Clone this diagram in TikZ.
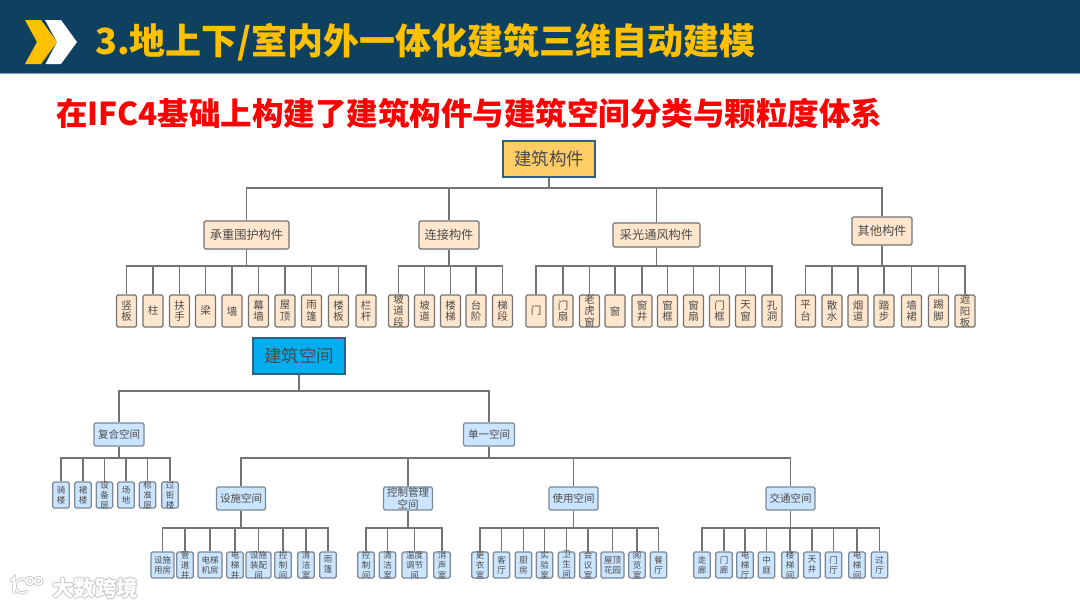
\documentclass[tikz,border=0pt]{standalone}
\usepackage{fontspec}
\usepackage{tikz}
\usepackage{xcolor}
\newfontfamily\cjk{Noto Sans CJK SC}
\definecolor{bandblue}{HTML}{0E4060}
\definecolor{bandedge}{HTML}{7F9FB5}
\definecolor{titleyellow}{HTML}{FFC000}
\definecolor{peach}{HTML}{FFE6CC}
\definecolor{paleblue}{HTML}{CCE5FF}
\definecolor{rootgold}{HTML}{FFCC66}
\definecolor{rootblue}{HTML}{00AEEF}
\definecolor{rootedge}{HTML}{2F6085}
\definecolor{linkgrey}{HTML}{737373}
\definecolor{edgeblue}{HTML}{7C8894}
\definecolor{inkgrey}{HTML}{4A4A4A}
\definecolor{markgrey}{HTML}{C4C4C4}

\begin{document}
\begin{tikzpicture}[x=1pt,y=-1pt,
    link/.style={draw=linkgrey,line width=1.1pt},
    box/.style={draw=linkgrey,line width=1.1pt,rounded corners=1.5pt,inner sep=0pt,align=center,text=inkgrey},
    rootbox/.style={box,draw=rootedge,line width=1.4pt,rounded corners=0pt,minimum width=92pt,minimum height=36pt,font=\cjk\fontsize{17.5}{20}\selectfont},
    partgroup/.style={box,fill=peach,font=\cjk\fontsize{12.2}{14}\selectfont},
    partleaf/.style={box,fill=peach,minimum width=20pt,minimum height=32pt},
    parttext/.style={inner sep=0pt,align=center,text=inkgrey,font=\cjk\fontsize{10.5}{11.7}\selectfont},
    spacegroup/.style={box,draw=edgeblue,fill=paleblue,minimum height=23pt},
    grouptext/.style={inner sep=0pt,align=center,text=inkgrey,font=\cjk\fontsize{10.5}{12.3}\selectfont},
    spaceleaf/.style={box,draw=edgeblue,fill=paleblue,minimum height=26pt},
    spacetext/.style={inner sep=0pt,align=center,text=inkgrey,font=\cjk\fontsize{8.5}{10}\selectfont},
    marktext/.style={anchor=west,inner sep=0pt,font=\cjk\bfseries\fontsize{21.5}{24}\selectfont}]
    \useasboundingbox (0,0) rectangle (1080,608);
    \fill[white] (0,0) rectangle (1080,608);
    % header band
    \fill[bandblue] (0,0) rectangle (1080,73);
    \draw[bandedge,line width=0.6pt] (0,73) -- (1080,73);
    \fill[titleyellow] (25,20)--(41,20)--(57,42)--(41,64)--(25,64)--(37,42)--cycle;
    \fill[white] (45,20)--(61,20)--(77,42)--(61,64)--(45.5,64)--(57,42)--cycle;
    \node[anchor=west,inner sep=0pt,text=titleyellow,font=\cjk\bfseries\fontsize{36}{40}\selectfont] (title) at (95,42) {3.地上下/室内外一体化建筑三维自动建模};
    \node[anchor=west,inner sep=0pt,text=red,font=\cjk\bfseries\fontsize{31.5}{34}\selectfont] (subtitle) at (56,113) {在IFC4基础上构建了建筑构件与建筑空间分类与颗粒度体系};
    % building parts
    \node[rootbox,fill=rootgold] (parts) at (549,159) {建筑构件};
    \coordinate (partsbar) at (parts.south |- 0,188);
    \foreach \name/\x/\y/\w/\h/\lab in {gA/246.5/235/85/28/承重围护构件,gB/449/235/60/28/连接构件,gC/656.5/235/87/24/采光通风构件,gD/882/231/60/28/其他构件}{
        \node[partgroup,minimum width=\w pt,minimum height=\h pt] (\name) at (\x,\y) {\lab};
        \coordinate (\name bar) at (\name.south |- 0,266);
        \draw[link] (parts.south) -- (partsbar) -| (\name.north);
        \draw[link] (\name.south) -- (\name bar);
    }
    \foreach \x/\lab in {126.5/竖\\板,153/柱,179.5/扶\\手,205.5/梁,232/墙,258.5/幕\\墙,285/屋\\顶,311.5/雨\\篷,338.5/楼\\板,366/栏\\杆}{
        \node[partleaf,label={[parttext]center:\lab}] (leaf) at (\x,311) {};
        \draw[link] (gAbar) -| (leaf.north);
    }
    \foreach \x/\lab in {398.5/坡\\道\\段,424.5/坡\\道,450.5/楼\\梯,476/台\\阶,502.5/梯\\段}{
        \node[partleaf,label={[parttext]center:\lab}] (leaf) at (\x,311) {};
        \draw[link] (gBbar) -| (leaf.north);
    }
    \foreach \x/\lab in {536/门,563/门\\扇,589.5/老\\虎\\窗,615/窗,642/窗\\井,667.5/窗\\框,693.5/窗\\扇,719.5/门\\框,745.5/天\\窗,772/孔\\洞}{
        \node[partleaf,label={[parttext]center:\lab}] (leaf) at (\x,311) {};
        \draw[link] (gCbar) -| (leaf.north);
    }
    \foreach \x/\lab in {805.5/平\\台,832/散\\水,858/烟\\道,884/踏\\步,911.5/墙\\裙,938.5/踢\\脚,965/遮\\阳\\板}{
        \node[partleaf,label={[parttext]center:\lab}] (leaf) at (\x,311) {};
        \draw[link] (gDbar) -| (leaf.north);
    }
    % building spaces
    \node[rootbox,fill=rootblue] (spaces) at (299,356) {建筑空间};
    \coordinate (spacesbar) at (spaces.south |- 0,391);
    \foreach \name/\x/\w/\lab in {sA/119/50/复合空间,sB/489/51/单一空间}{
        \node[spacegroup,minimum width=\w pt,label={[grouptext]center:\lab}] (\name) at (\x,434.5) {};
        \coordinate (\name bar) at (\name.south |- 0,458);
        \draw[link] (spaces.south) -- (spacesbar) -| (\name.north);
        \draw[link] (\name.south) -- (\name bar);
    }
    \foreach \x/\lab in {61/骑\\楼,83/裙\\楼,104.5/设\\备\\层,126/场\\地,147.5/标\\准\\层,170/过\\街\\楼}{
        \node[spaceleaf,minimum width=16.5pt,label={[spacetext]center:\lab}] (leaf) at (\x,495) {};
        \draw[link] (sAbar) -| (leaf.north);
    }
    \foreach \name/\x/\lab in {cA/241/设施空间,cB/408/控制管理\\空间,cC/573.5/使用空间,cD/790.5/交通空间}{
        \node[spacegroup,minimum width=49pt,label={[grouptext]center:\lab}] (\name) at (\x,498.5) {};
        \coordinate (\name bar) at (\name.south |- 0,528);
        \draw[link] (sBbar) -| (\name.north);
        \draw[link] (\name.south) -- (\name bar);
    }
    \foreach \x/\w/\lab in {162.5/23/设施\\用房,185/16.5/管\\道\\井,210/24/电梯\\机房,235/16.5/电\\梯\\井,258.5/25/设施\\装配\\间,283/16.5/控\\制\\间,306/16.5/清\\洁\\室,328/16.5/雨\\篷}{
        \node[spaceleaf,minimum width=\w pt,label={[spacetext]center:\lab}] (leaf) at (\x,565) {};
        \draw[link] (cAbar) -| (leaf.north);
    }
    \foreach \x/\w/\lab in {366/16.5/控\\制\\间,387.5/16.5/清\\洁\\室,414.5/25/温度\\调节\\间,442/16.5/消\\声\\室}{
        \node[spaceleaf,minimum width=\w pt,label={[spacetext]center:\lab}] (leaf) at (\x,565) {};
        \draw[link] (cBbar) -| (leaf.north);
    }
    \foreach \x/\w/\lab in {480/16.5/更\\衣\\室,501.5/16.5/客\\厅,523.5/16.5/厨\\房,544.5/16.5/实\\验\\室,566.5/16.5/卫\\生\\间,588/16.5/会\\议\\室,612.5/23/屋顶\\花园,637/16.5/阅\\览\\室,658.5/16.5/餐\\厅}{
        \node[spaceleaf,minimum width=\w pt,label={[spacetext]center:\lab}] (leaf) at (\x,565) {};
        \draw[link] (cCbar) -| (leaf.north);
    }
    \foreach \x/\lab in {702/走\\廊,724/门\\廊,745/电\\梯\\厅,766.5/中\\庭,790/楼\\梯\\间,812/天\\井,833.5/门\\厅,857/电\\梯\\间,879.5/过\\厅}{
        \node[spaceleaf,minimum width=16.5pt,label={[spacetext]center:\lab}] (leaf) at (\x,565) {};
        \draw[link] (cDbar) -| (leaf.north);
    }
    % watermark
    \foreach \w/\c in {3.2/markgrey,1.6/white}{
        \draw[line width=\w pt,draw=\c,line cap=round] (11,581)--(14,578)--(14,593);
        \draw[line width=\w pt,draw=\c,line cap=round] (27,581) arc (-45:-315:7);
        \draw[line width=\w pt,draw=\c] (30,581) circle (3.5);
        \draw[line width=\w pt,draw=\c] (38.5,581) circle (3.5);
    }
    \foreach \dx/\dy in {-0.8/0,0.8/0,0/-0.8,0/0.8}{
        \node[marktext,text=markgrey] at (52+\dx,588+\dy) {大数跨境};
    }
    \node[marktext,text=white] (mark) at (52,588) {大数跨境};
\end{tikzpicture}
\end{document}
